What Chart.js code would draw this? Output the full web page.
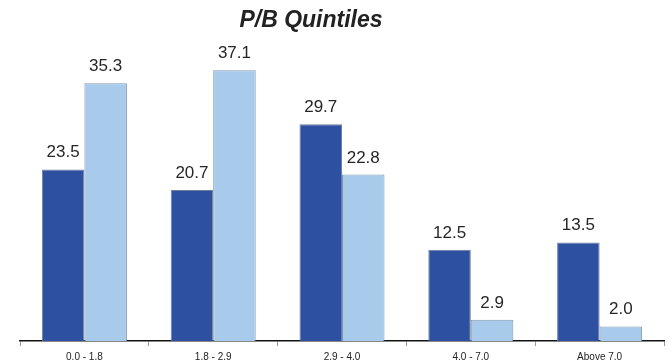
<!DOCTYPE html>
<html>
<head>
<meta charset="utf-8">
<script src="https://cdn.jsdelivr.net/npm/chart.js@4/dist/chart.umd.min.js"></script>
<style>
  html, body { margin: 0; padding: 0; background: #fff; }
  #wrap { width: 672px; height: 362px; }
</style>
</head>
<body>
<div id="wrap"><canvas id="c" width="672" height="362"></canvas></div>
<script>
// P/B quintile buckets and the two series shown per bucket
const categories = ['0.0 - 1.8', '1.8 - 2.9', '2.9 - 4.0', '4.0 - 7.0', 'Above 7.0'];
const seriesDark = [23.5, 20.7, 29.7, 12.5, 13.5];
const seriesLight = [35.3, 37.1, 22.8, 2.9, 2.0];
const titleText = 'P/B Quintiles';

// Value labels above each bar
const valueLabels = {
  id: 'valueLabels',
  afterDatasetsDraw(chart) {
    const ctx = chart.ctx;
    ctx.save();
    ctx.font = '17px "Liberation Sans", Arial, sans-serif';
    ctx.fillStyle = '#262626';
    ctx.textAlign = 'center';
    ctx.textBaseline = 'alphabetic';
    chart.data.datasets.forEach((ds, i) => {
      chart.getDatasetMeta(i).data.forEach((bar, j) => {
        ctx.fillText(ds.data[j].toFixed(1), bar.x, bar.y - 12);
      });
    });
    ctx.restore();
  }
};

// Chart heading
const heading = {
  id: 'heading',
  afterDraw(chart) {
    const ctx = chart.ctx;
    ctx.save();
    ctx.font = 'italic bold 23px "Liberation Sans", Arial, sans-serif';
    ctx.fillStyle = '#222';
    ctx.textAlign = 'center';
    ctx.textBaseline = 'alphabetic';
    ctx.fillText(titleText, 311, 27);
    ctx.restore();
  }
};

new Chart(document.getElementById('c'), {
  type: 'bar',
  data: {
    labels: categories,
    datasets: [
      { data: seriesDark, backgroundColor: '#2E50A0', borderColor: '#6f7f9c', borderWidth: 1 },
      { data: seriesLight, backgroundColor: '#A8CBEB', borderColor: '#7f97b4', borderWidth: 1 }
    ]
  },
  options: {
    responsive: false,
    animation: false,
    layout: { padding: { top: 49, left: 20, right: 8, bottom: 0 } },
    datasets: { bar: { categoryPercentage: 0.66, barPercentage: 1.0 } },
    plugins: {
      legend: { display: false },
      title: { display: false },
      tooltip: { enabled: false }
    },
    scales: {
      x: {
        // reserve a fixed strip under the baseline for ticks and labels
        afterFit(scale) { scale.height = 21; },
        grid: { display: true, drawOnChartArea: false, tickLength: 5, color: '#999', offset: true },
        border: { display: true, color: '#111', width: 1.5 },
        ticks: { color: '#222', font: { family: '"Liberation Sans", Arial, sans-serif', size: 10 }, padding: 5 }
      },
      y: {
        display: false,
        min: 0,
        max: 40
      }
    }
  },
  plugins: [valueLabels, heading]
});
</script>
</body>
</html>
